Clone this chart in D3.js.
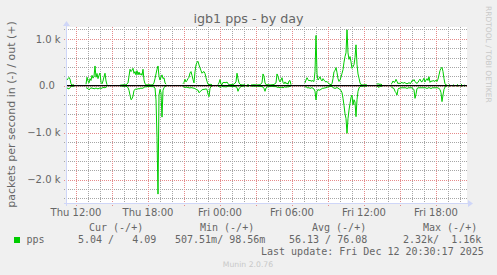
<!DOCTYPE html>
<html>
<head>
<meta charset="utf-8">
<script src="https://cdn.jsdelivr.net/npm/d3@7"></script>
<style>
  body { margin: 0; background: #f0f0f0; }
  svg { display: block; }
  .sans { font-family: "DejaVu Sans", sans-serif; fill: #666; }
  .mono { font-family: "DejaVu Sans Mono", monospace; font-size: 10px; fill: #666; white-space: pre; }
</style>
</head>
<body>
<svg id="chart"></svg>
<script>
const title = 'igb1 pps - by day';
const yTitle = 'packets per second in (-) / out (+)';
const sampleStart = '2025-12-11 11:15';
const viewEnd = '2025-12-12 20:35';
const sampleMinutes = 5;

// 5 minute slots since sampleStart, null = no data (gap)
const slots = [
  0, 1, 2, 3, 4, 5, 6, 7, 8,
  19, 20, 21, 22, 23, 24, 25, 26, 27, 28, 29, 30, 31, 32, 33, 34, 35, 36, 37, 38, 39, 40, 41,
  53, 55, 57, 59, 61, 62, 63, 64, 65, 66, 67, 68, 69, 70, 71, 72, 73, 74, 75, 76, 77, 78, 79, 80, 82, 84,
  86, 87, 88, 89, 90, 91, 92, 93, 94, 95, 96, 97, 98, 99, 100,
  116, 117, 118, 119, 120, 121, 122, 123, 124, 125, 126, 127, 128, 129, 130, 131, 132, 133, 134, 135,
  136, 137, 138, 139, 140, 141, 142, 143, 144, 145, 146,
  151, 152, 153, 154, 155, 156, 157, 158, 159, 160, 161, 162,
  163, 165, 167, 169, 170, 171, 172, 173, 174, 176, 178, 179,
  180, 181, 182, 183,
  184, 187, 190, 193, 195, 196, 197, 198, 199, 201, 203, 205, 207,
  209, 210, 211, 212, 213, 214, 215, 216, 217, 218, 219, 220, 221, 222, 223, 224,
  225,
  238, 239, 240, 241, 242, 243, 244, 245, 246, 247,
  248, 249, 250, 251, 252, 253, 254, 255, 256, 257,
  258, 259, 260, 261, 262, 263, 264, 265, 266, 267,
  268, 269, 270, 271, 272, 273, 274, 275, 276, 277,
  278, 279, 280, 281, 282, 283, 284, 285, 286, 287,
  288, 289, 290, 291, 292, 293, 294,
  296, 298, 300, 301,
  310, 311, 312, 313, 314, 315, 316,
  324, 325, 326, 327, 328, 329, 330, 331, 332, 333,
  334, 335, 336, 337, 338, 339, 340, 341, 342, 343,
  344, 345, 346, 347, 348, 349, 350, 351, 352, 353,
  354, 355, 356, 357, 358, 359, 360, 361, 362, 363,
  364, 365, 366, 367, 368, 369, 370, 371, 372, 373,
  374, 375, 376, 377, 378, 379, 380,
  381, 382, 383, 384, 386, 387, 388, 390, 391, 392, 394, 395, 396, 397, 398
];

const outPps = [
  120, 150, 175, 140, 40, 10, 20, 15, null,
  30, 180, 100, 60, 150, 110, 220, 160, 200, 420, 180, 260, 150, 220, 270, 70, 40, 100, 190, 265, 100, 20, null,
  10, 15, 20, 15, 60, 200, 350, 300, 330, 370, 260, 300, 230, 320, 230, 290, 230, 260, 220, 350, 120, 40, 20, 15, 20, 15,
  20, 60, 150, 250, 350, 420, 200, 120, 180, 230, 150, 170, 60, 30, null,
  40, 70, 135, 80, 110, 150, 180, 270, 300, 220, 130, 60, 300, 440, 500, 520, 440, 380, 320, 265,
  290, 300, 260, 170, 90, 30, 20, 30, 25, 20, null,
  20, 60, 130, 30, 20, 70, 65, 70, 60, 80, 40, 20,
  20, 25, 30, 80, 265, 150, 60, 30, 20, 15, 20, null,
  15, 20, 15, null,
  15, 20, 15, 20, 60, 250, 200, 60, 20, 20, 15, 20, 25,
  60, 250, 200, 120, 80, 120, 170, 70, 40, 80, 40, 60, 30, 100, 110, 20,
  null,
  60, 120, 170, 130, 100, 120, 90, 110, 100, 90,
  300, 1070, 250, 120, 150, 190, 130, 100, 150, 120,
  90, 80, 90, 60, 40, 30, 20, 40, 150, 300,
  320, 385, 280, 150, 90, 120, 180, 260, 340, 500,
  620, 700, 1190, 700, 560, 620, 510, 370, 400, 450,
  600, 870, 450, 250, 160, 60, 20,
  15, 20, 15, null,
  20, 50, 20, 40, 20, 30, null,
  30, 50, 100, 70, 80, 135, 90, 40, 60, 40,
  60, 70, 50, 60, 70, 40, 50, 40, 70, 40,
  60, 110, 100, 130, 90, 60, 50, 70, 110, 140,
  90, 80, 120, 160, 80, 120, 150, 110, 190, 70,
  100, 90, 110, 100, 90, 120, 90, 140, 230, 320,
  370, 390, 300, 150, 40, 15, 10,
  null, 20, 15, null, 20, 10, null, 25, 15, null, 20, 30, null, 15, 4.09
];

const inPps = [
  50, 60, 70, 40, 20, 10, 15, 10, null,
  40, 55, 60, 90, 70, 40, 60, 50, 70, 60, 50, 60, 70, 55, 50, 60, 50, 40, 40, 45, 30, 20, null,
  5, 10, 15, 10, 40, 100, 200, 300, 280, 220, 100, 80, 70, 80, 60, 70, 60, 50, 60, 50, 40, 20, 30, 20, 15, 20,
  20, 30, 50, 300, 1100, 2310, 200, 80, 150, 670, 100, 40, 20, 10, null,
  20, 30, 40, 30, 35, 40, 45, 50, 40, 45, 50, 55, 60, 80, 90, 95, 150, 130, 110, 90,
  80, 80, 75, 70, 80, 180, 235, 60, 20, 15, null,
  10, 20, 30, 40, 15, 20, 25, 20, 30, 20, 10, 10,
  15, 20, 15, 25, 40, 120, 60, 40, 20, 10, 10, null,
  10, 15, 10, null,
  10, 10, 10, 15, 20, 30, 60, 120, 50, 15, 20, 15, 20,
  20, 30, 40, 30, 50, 40, 30, 50, 30, 20, 40, 20, 30, 20, 15, 10,
  null,
  30, 20, 40, 50, 40, 60, 50, 40, 60, 70,
  120, 305, 120, 80, 100, 90, 80, 60, 50, 60,
  40, 50, 30, 30, 20, 20, 15, 20, 40, 50,
  60, 50, 40, 50, 70, 80, 100, 150, 270, 420,
  600, 700, 1015, 700, 520, 380, 250, 200, 410, 300,
  350, 660, 300, 120, 50, 20, 15,
  10, 10, 10, null,
  10, 20, 40, 10, 20, 10, null,
  20, 40, 50, 60, 120, 150, 200, 80, 50, 60,
  40, 50, 40, 50, 40, 50, 60, 50, 40, 50,
  40, 50, 60, 90, 270, 180, 60, 50, 40, 50,
  40, 50, 40, 50, 40, 50, 60, 50, 40, 50,
  60, 50, 40, 50, 40, 50, 40, 50, 60, 80,
  150, 340, 200, 80, 30, 10, 5,
  null, 10, 10, null, 10, 5, null, 10, 10, null, 10, 15, null, 10, 5.04
];

const yTickValues = [-2000, -1000, 0, 1000];
const legendHeads = ['Cur (-/+)', 'Min (-/+)', 'Avg (-/+)', 'Max (-/+)'];
const legendValues = ['5.04 /   4.09', '507.51m/ 98.56m', '56.13 / 76.08', '2.32k/  1.16k'];
const seriesName = 'pps';
const lastUpdate = 'Last update: Fri Dec 12 20:30:17 2025';
const footer = 'Munin 2.0.76';
const watermark = 'RRDTOOL / TOBI OETIKER';

const width = 497, height = 275;
const plot = { left: 67, right: 467, top: 27, bottom: 203 };
const green = '#00cc00';
const axisColor = '#cfd6f8';
const minorColor = '#a6a6a6';
const majorColor = '#e58a8a';

const parseTime = d3.timeParse('%Y-%m-%d %H:%M');
const t0 = parseTime(sampleStart);

const svg = d3.select('#chart')
  .attr('width', width)
  .attr('height', height);

svg.append('rect')
  .attr('width', width)
  .attr('height', height)
  .attr('fill', '#f0f0f0');

const x = d3.scaleTime()
  .domain([t0, parseTime(viewEnd)])
  .range([plot.left, plot.right]);

const y = d3.scaleLinear()
  .domain([-2500, 1250])
  .range([plot.bottom, plot.top]);

svg.append('rect')
  .attr('x', plot.left)
  .attr('y', plot.top)
  .attr('width', plot.right - plot.left)
  .attr('height', plot.bottom - plot.top)
  .attr('fill', '#fff');

const px = v => Math.round(v) + 0.5;

// grid: dotted, 1px on / 1px off
const grid = svg.append('g').attr('class', 'grid');
const minorY = y.ticks(20).filter(v => yTickValues.indexOf(v) < 0);
const minorX = x.ticks(d3.timeHour.every(1)).filter(d => d.getHours() % 3 !== 0);
const majorX = x.ticks(d3.timeHour.every(3));

const drawH = (cls, values, color) => grid.selectAll('line.' + cls).data(values).join('line')
  .attr('class', cls)
  .attr('x1', plot.left - 3).attr('x2', plot.right)
  .attr('y1', d => px(y(d))).attr('y2', d => px(y(d)))
  .attr('stroke', color)
  .attr('stroke-dasharray', '1 1');

const drawV = (cls, values, color, ext) => grid.selectAll('line.' + cls).data(values).join('line')
  .attr('class', cls)
  .attr('x1', d => px(x(d))).attr('x2', d => px(x(d)))
  .attr('y1', plot.top).attr('y2', plot.bottom + ext)
  .attr('stroke', color)
  .attr('stroke-dasharray', '1 1');

drawH('hy', minorY, minorColor);
drawV('vx', minorX, minorColor, 2);
drawH('my', yTickValues, majorColor);
drawV('mx', majorX, majorColor, 3);

// axes
svg.append('line')
  .attr('x1', plot.left - 3).attr('x2', plot.right + 2)
  .attr('y1', plot.bottom + 0.5).attr('y2', plot.bottom + 0.5)
  .attr('stroke', axisColor);
svg.append('line')
  .attr('x1', plot.left - 0.5).attr('x2', plot.left - 0.5)
  .attr('y1', plot.bottom + 3).attr('y2', plot.top - 3)
  .attr('stroke', axisColor);
svg.append('path')
  .attr('d', `M${plot.right + 1},${plot.bottom - 3}L${plot.right + 6},${plot.bottom + 0.5}L${plot.right + 1},${plot.bottom + 4}Z`)
  .attr('fill', axisColor);
svg.append('path')
  .attr('d', `M${plot.left - 4},${plot.top - 1}L${plot.left - 0.5},${plot.top - 6}L${plot.left + 3},${plot.top - 1}Z`)
  .attr('fill', axisColor);

// data
const samples = slots.map((s, i) => ({
  t: d3.timeMinute.offset(t0, s * sampleMinutes),
  out: outPps[i],
  inn: inPps[i]
}));

const outLine = d3.line()
  .defined(d => d.out != null)
  .x(d => x(d.t))
  .y(d => y(d.out));

const inLine = d3.line()
  .defined(d => d.inn != null)
  .x(d => x(d.t))
  .y(d => y(-d.inn));

svg.append('path')
  .datum(samples)
  .attr('d', inLine)
  .attr('fill', 'none')
  .attr('stroke', green)
  .attr('stroke-width', 1);

svg.append('path')
  .datum(samples)
  .attr('d', outLine)
  .attr('fill', 'none')
  .attr('stroke', green)
  .attr('stroke-width', 1);

svg.append('line')
  .attr('x1', plot.left).attr('x2', plot.right)
  .attr('y1', y(0)).attr('y2', y(0))
  .attr('stroke', '#000')
  .attr('stroke-width', 1.2);

// tick labels
const fmtY = v => v === 0 ? '0.0' : d3.format('.1f')(v / 1000) + ' k';
svg.selectAll('.ylab').data(yTickValues).join('text')
  .attr('class', 'sans ylab')
  .attr('font-size', 10)
  .attr('text-anchor', 'end')
  .attr('x', d => d === 0 ? 54.8 : 60.5)
  .attr('y', d => y(d) + 3.8)
  .text(fmtY);

const fmtX = d3.timeFormat('%a %H:%M');
svg.selectAll('.xlab').data(x.ticks(d3.timeHour.every(6))).join('text')
  .attr('class', 'sans xlab')
  .attr('font-size', 10)
  .attr('text-anchor', 'middle')
  .attr('x', d => x(d))
  .attr('y', 216)
  .text(fmtX);

// titles
svg.append('text')
  .attr('class', 'sans')
  .attr('font-size', 12.7)
  .attr('text-anchor', 'middle')
  .attr('x', 248.5)
  .attr('y', 23)
  .text(title);

svg.append('text')
  .attr('class', 'sans')
  .attr('font-size', 11)
  .attr('text-anchor', 'middle')
  .attr('transform', 'translate(15,114.5) rotate(-90)')
  .text(yTitle);

svg.append('text')
  .attr('class', 'sans')
  .attr('font-size', 7.5)
  .style('fill', '#c8c8c8')
  .attr('transform', 'translate(486,6) rotate(90)')
  .text(watermark);

// legend
const headX = [89, 200, 312, 423];
const valueX = [78, 175, 289, 403];
svg.selectAll('.lhead').data(legendHeads).join('text')
  .attr('class', 'mono lhead')
  .attr('x', (d, i) => headX[i])
  .attr('y', 231)
  .text(d => d);

svg.append('rect')
  .attr('x', 14).attr('y', 237)
  .attr('width', 6).attr('height', 6)
  .attr('fill', green);

svg.append('text')
  .attr('class', 'mono')
  .attr('x', 26.5)
  .attr('y', 242.5)
  .text(seriesName);

svg.selectAll('.lval').data(legendValues).join('text')
  .attr('class', 'mono lval')
  .attr('x', (d, i) => valueX[i])
  .attr('y', 242.5)
  .text(d => d);

svg.append('text')
  .attr('class', 'mono')
  .attr('x', 261)
  .attr('y', 254.5)
  .text(lastUpdate);

svg.append('text')
  .attr('class', 'sans')
  .attr('font-size', 7.7)
  .style('fill', '#c8c8c8')
  .attr('text-anchor', 'middle')
  .attr('x', 248)
  .attr('y', 266.5)
  .text(footer);
</script>
</body>
</html>
